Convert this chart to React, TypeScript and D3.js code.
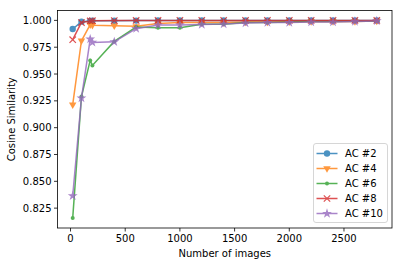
import React from 'react';
import * as d3 from 'd3';

// number of images used for each measurement
const images = [20, 100, 180, 200, 400, 600, 800, 1000, 1200, 1400, 1600, 1800, 2000, 2200, 2400, 2600, 2800];

const ac2 = [0.992, 0.9988, 0.9995, 0.9996, 0.9997, 0.9998, 0.9999, 0.9999, 0.9999, 0.9999, 1.0, 1.0, 1.0, 1.0, 1.0, 1.0, 1.0];
const ac4 = [0.9214, 0.981, 0.996, 0.9955, 0.995, 0.9945, 0.997, 0.998, 0.998, 0.998, 0.9985, 0.9985, 0.9988, 0.999, 0.999, 0.999, 0.9995];
const ac6 = [0.8157, 0.929, 0.9627, 0.958, 0.9804, 0.9938, 0.9932, 0.9932, 0.9963, 0.9965, 0.998, 0.998, 0.9985, 0.999, 0.999, 0.9993, 0.9995];
const ac8 = [0.982, 0.998, 0.9995, 0.9997, 0.9998, 0.9999, 0.9999, 1.0, 1.0, 1.0, 1.0, 1.0, 1.0, 1.0, 1.0, 1.0, 1.0];
const ac10 = [0.8365, 0.9276, 0.9826, 0.9795, 0.98, 0.9923, 0.9957, 0.9957, 0.9962, 0.9966, 0.9975, 0.998, 0.998, 0.9985, 0.9985, 0.999, 0.9995];

const seriesNames = ['AC #2', 'AC #4', 'AC #6', 'AC #8', 'AC #10'];
const seriesValues = [ac2, ac4, ac6, ac8, ac10];
const seriesColors = ['#1f77b4', '#ff7f0e', '#2ca02c', '#d62728', '#9467bd'];
const seriesMarkers = ['circle', 'triangleDown', 'point', 'x', 'star'];

const xTicks = [0, 500, 1000, 1500, 2000, 2500];
const yTicks = [0.825, 0.85, 0.875, 0.9, 0.925, 0.95, 0.975, 1.0];

const W = 402;
const H = 266;
const plot = { left: 57.5, right: 392, top: 10.5, bottom: 228 };
const font = '"DejaVu Sans", sans-serif';

function Marker({ kind, x, y, color }: { kind: string; x: number; y: number; color: string }) {
  if (kind === 'circle') return <circle cx={x} cy={y} r={3.2} fill={color} />;
  if (kind === 'point') return <circle cx={x} cy={y} r={2} fill={color} />;
  if (kind === 'x') {
    const s = 3.2;
    return (
      <path d={`M${x - s},${y - s}L${x + s},${y + s}M${x - s},${y + s}L${x + s},${y - s}`} stroke={color} strokeWidth={1.2} />
    );
  }
  if (kind === 'triangleDown') {
    const p = d3.symbol().type(d3.symbolTriangle).size(24)();
    return <path d={p || ''} transform={`translate(${x},${y}) rotate(180)`} fill={color} />;
  }
  const p = d3.symbol().type(d3.symbolStar).size(30)();
  return <path d={p || ''} transform={`translate(${x},${y})`} fill={color} />;
}

export default function App() {
  const allY = seriesValues.flat();
  const [x0, x1] = d3.extent(images) as [number, number];
  const [y0, y1] = d3.extent(allY) as [number, number];
  const xPad = (x1 - x0) * 0.05;
  const yPad = (y1 - y0) * 0.05;

  const x = d3.scaleLinear().domain([x0 - xPad, x1 + xPad]).range([plot.left, plot.right]);
  const y = d3.scaleLinear().domain([y0 - yPad, y1 + yPad]).range([plot.bottom, plot.top]);

  const line = d3
    .line<number>()
    .x((_, i) => x(images[i]))
    .y((d) => y(d));

  const legend = { x: 313.5, y: 143.5, w: 74, h: 79, row: 15 };

  return (
    <svg width={W} height={H} style={{ position: 'absolute', left: 0, top: 0, background: '#fff' }}>
      {/* series */}
      {seriesValues.map((vals, si) => (
        <g key={seriesNames[si]} opacity={0.8}>
          <path d={line(vals) || ''} fill="none" stroke={seriesColors[si]} strokeWidth={1.5} />
          {vals.map((v, i) => (
            <Marker key={i} kind={seriesMarkers[si]} x={x(images[i])} y={y(v)} color={seriesColors[si]} />
          ))}
        </g>
      ))}

      {/* frame */}
      <rect
        x={plot.left}
        y={plot.top}
        width={plot.right - plot.left}
        height={plot.bottom - plot.top}
        fill="none"
        stroke="#000"
        strokeWidth={0.8}
      />

      {/* x axis */}
      {xTicks.map((t) => (
        <g key={t} transform={`translate(${x(t)},${plot.bottom})`}>
          <line y2={3.5} stroke="#000" strokeWidth={0.8} />
          <text y={14} textAnchor="middle" fontSize={10} fontFamily={font} fill="#000">
            {t}
          </text>
        </g>
      ))}
      <text x={(plot.left + plot.right) / 2} y={257} textAnchor="middle" fontSize={10} fontFamily={font} fill="#000">
        Number of images
      </text>

      {/* y axis */}
      {yTicks.map((t) => (
        <g key={t} transform={`translate(${plot.left},${y(t)})`}>
          <line x2={-3.5} stroke="#000" strokeWidth={0.8} />
          <text x={-6} dy="0.35em" textAnchor="end" fontSize={10} fontFamily={font} fill="#000">
            {d3.format('.3f')(t)}
          </text>
        </g>
      ))}
      <text
        transform={`translate(15,${(plot.top + plot.bottom) / 2}) rotate(-90)`}
        textAnchor="middle"
        fontSize={10}
        fontFamily={font}
        fill="#000"
      >
        Cosine Similarity
      </text>

      {/* legend */}
      <rect
        x={legend.x}
        y={legend.y}
        width={legend.w}
        height={legend.h}
        rx={2.5}
        fill="#fff"
        fillOpacity={0.8}
        stroke="#ccc"
        strokeWidth={0.8}
      />
      {seriesNames.map((name, si) => {
        const ly = legend.y + 10 + si * legend.row;
        return (
          <g key={name}>
            <g opacity={0.8}>
              <line x1={legend.x + 3} x2={legend.x + 24} y1={ly} y2={ly} stroke={seriesColors[si]} strokeWidth={1.5} />
              <Marker kind={seriesMarkers[si]} x={legend.x + 13.5} y={ly} color={seriesColors[si]} />
            </g>
            <text x={legend.x + 31.5} y={ly} dy="0.35em" fontSize={10} fontFamily={font} fill="#000">
              {name}
            </text>
          </g>
        );
      })}
    </svg>
  );
}
